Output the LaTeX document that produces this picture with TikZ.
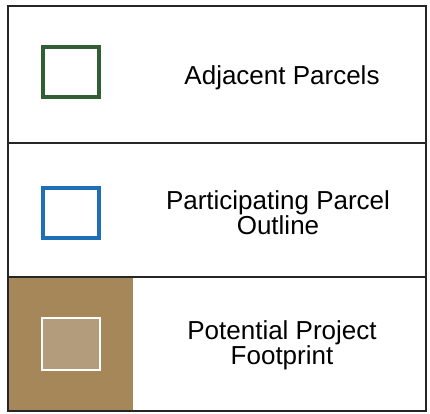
\documentclass[tikz,border=0pt]{standalone}
\usepackage{fontspec}
\setmainfont{Liberation Sans}
\usetikzlibrary{positioning}
\definecolor{adjgreen}{HTML}{2F5F32}
\definecolor{partblue}{HTML}{1F6EB8}
\definecolor{footbrown}{HTML}{A68759}
\definecolor{footfill}{HTML}{B39C7C}
\tikzset{
  frame/.style={draw=black!85,line width=1.8pt},
  swatch/.style={rectangle,minimum width=56pt,minimum height=50pt,inner sep=0,line width=4.5pt},
  lab/.style={font=\fontsize{26}{24}\selectfont,align=center,inner sep=0},
}
\begin{document}
\begin{tikzpicture}[x=1pt,y=-1pt]
  \useasboundingbox (0,0) rectangle (430,413);
  % brown band behind the last row
  \fill[footbrown] (8,277) rectangle (133,411);
  % outer frame and the row dividers
  \draw[frame] (8,6) rectangle (426,411);
  \draw[frame] (8,143) -- (426,143);
  \draw[frame] (8,277) -- (426,277);
  % the three swatches
  \node[swatch,draw=adjgreen] (adj) at (71,72) {};
  \node[swatch,draw=partblue] (part) at (71,213) {};
  \node[swatch,draw=white,fill=footfill,line width=2pt,minimum width=58pt,minimum height=52pt] (foot) at (71,343.5) {};
  % the labels
  \node[lab,anchor=base] (adjlab) at (282,84) {Adjacent Parcels};
  \node[lab] (partlab) at (278,213) {Participating Parcel\\Outline};
  \node[lab] (footlab) at (282,345) {Potential Project\\Footprint};
\end{tikzpicture}
\end{document}
